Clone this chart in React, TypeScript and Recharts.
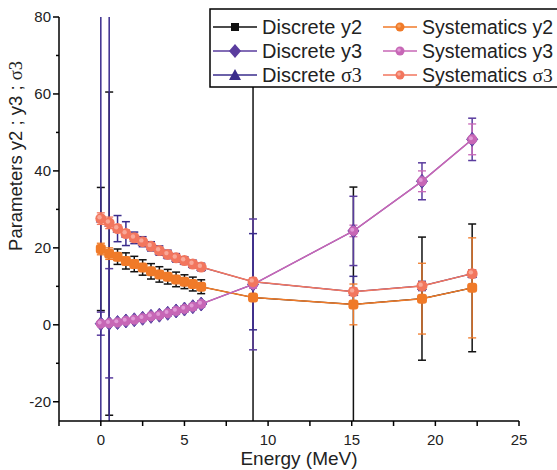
import { LineChart, Line, XAxis, YAxis, ErrorBar } from 'recharts';

// energy points (MeV)
const energy = [0, 0.5, 1, 1.5, 2, 2.5, 3, 3.5, 4, 4.5, 5, 5.5, 6, 9.1, 15.1, 19.2, 22.2];

// parameter values (discrete and systematics coincide)
const y2Values = [19.7, 18.5, 17.7, 16.6, 15.8, 14.9, 13.9, 13.1, 12.5, 11.8, 11.2, 10.6, 9.9, 7.1, 5.3, 6.8, 9.6];
const y3Values = [0.3, 0.4, 0.6, 1.0, 1.3, 1.7, 2.2, 2.5, 3.0, 3.6, 4.1, 4.7, 5.4, 10.5, 24.4, 37.3, 48.2];
const sigma3Values = [27.6, 26.5, 25.0, 23.7, 22.6, 21.6, 20.4, 19.3, 18.3, 17.4, 16.7, 15.8, 15.0, 11.2, 8.6, 10.1, 13.3];

// errors
const discreteY2Err = [16, 42, 2, 2.1, 2, 2, 2, 2, 1.9, 1.9, 1.8, 1.8, 1.8, 200, 30.5, 16, 16.6];
const discreteY3Err = [3, 14.2, 0.6, 0.6, 0.6, 0.6, 0.7, 0.7, 0.7, 0.8, 0.8, 0.8, 0.8, 17, 9, 4.8, 5.5];
const discreteS3Err = [200, 200, 3.4, 3.1, 1.5, 1.3, 1.2, 1.2, 1.1, 1.1, 1.0, 1.0, 1.0, 12.5, 4, 1.2, 1];
const sysY2Err = [1.5, 1.5, 1, 1, 1, 0.8, 0.8, 0.8, 0.8, 0.8, 0.8, 0.8, 0.8, 1, 5.3, 9.2, 13];
const sysY3Err = [0.5, 0.5, 0.3, 0.3, 0.3, 0.3, 0.3, 0.3, 0.3, 0.3, 0.3, 0.3, 0.3, 1, 1.5, 2.7, 4];
const sysS3Err = [1.5, 1.5, 1, 1, 1, 0.8, 0.8, 0.8, 0.8, 0.8, 0.8, 0.8, 0.8, 1, 1, 1, 1];

const xTicks = [-2.5, 0, 2.5, 5, 7.5, 10, 12.5, 15, 17.5, 20, 22.5, 25];
const yTicks = [-20, -10, 0, 10, 20, 30, 40, 50, 60, 70, 80];

const C = {
  dY2: '#111111',
  dY3: '#5a3c9e',
  dS3: '#3a2c8c',
  sY2: '#f07a28',
  sY3: '#c767b6',
  sS3: '#f2765e',
};

const FONT = "'Liberation Sans', Arial, sans-serif";
const SERIF = "'Liberation Serif', 'Times New Roman', serif";

const data = energy.map((e, i) => ({
  e,
  dy2: y2Values[i],
  dy3: y3Values[i],
  ds3: sigma3Values[i],
  sy2: y2Values[i],
  sy3: y3Values[i],
  ss3: sigma3Values[i],
  dy2Err: discreteY2Err[i],
  dy3Err: discreteY3Err[i],
  ds3Err: discreteS3Err[i],
  sy2Err: sysY2Err[i],
  sy3Err: sysY3Err[i],
  ss3Err: sysS3Err[i],
}));

function XTick({ x, y, payload }: any) {
  const v = payload.value;
  const major = v % 5 === 0;
  return (
    <g>
      <line x1={x} x2={x} y1={y} y2={y + 5} stroke="#000" strokeWidth={1.5} />
      {major && (
        <text x={x} y={y + 24} textAnchor="middle" fontSize={15} fontFamily={FONT} fill="#222">
          {v}
        </text>
      )}
    </g>
  );
}

function YTick({ x, y, payload }: any) {
  const v = payload.value;
  const major = v % 20 === 0;
  return (
    <g>
      <line x1={x - (major ? 6 : 3)} x2={x} y1={y} y2={y} stroke="#000" strokeWidth={1.5} />
      {major && (
        <text x={x - 8} y={y + 5} textAnchor="end" fontSize={15} fontFamily={FONT} fill="#222">
          {v}
        </text>
      )}
    </g>
  );
}

const squareDot = (p: any) => (
  <rect key={p.key} x={p.cx - 3.5} y={p.cy - 3.5} width={7} height={7} fill={C.dY2} />
);
const diamondDot = (p: any) => (
  <polygon
    key={p.key}
    points={`${p.cx},${p.cy - 7} ${p.cx + 5.5},${p.cy} ${p.cx},${p.cy + 7} ${p.cx - 5.5},${p.cy}`}
    fill="#7a55b0"
    stroke={C.dY3}
    strokeWidth={1}
  />
);
const triangleDot = (p: any) => (
  <polygon
    key={p.key}
    points={`${p.cx},${p.cy - 5} ${p.cx + 5},${p.cy + 4} ${p.cx - 5},${p.cy + 4}`}
    fill={C.dS3}
  />
);
const orangeDot = (p: any) => (
  <g key={p.key}>
    <rect x={p.cx - 5} y={p.cy - 5} width={10} height={10} rx={3} fill={C.sY2} />
  </g>
);
const pinkDot = (p: any) => (
  <g key={p.key}>
    <circle cx={p.cx} cy={p.cy} r={5} fill={C.sY3} />
    <circle cx={p.cx - 1.2} cy={p.cy - 1.2} r={2} fill="#e09ad6" />
  </g>
);
const salmonDot = (p: any) => (
  <g key={p.key}>
    <circle cx={p.cx} cy={p.cy} r={5.5} fill={C.sS3} />
    <circle cx={p.cx - 1.3} cy={p.cy - 1.3} r={2.2} fill="#f8a898" />
  </g>
);

const legendRows = [
  { label: 'Discrete y2', color: C.dY2, kind: 'square' },
  { label: 'Discrete y3', color: C.dY3, kind: 'diamond' },
  { label: 'Discrete ', sigma: true, color: C.dS3, kind: 'triangle' },
];
const legendRows2 = [
  { label: 'Systematics y2', color: C.sY2, light: '#f5a060' },
  { label: 'Systematics y3', color: C.sY3, light: '#e09ad6' },
  { label: 'Systematics ', sigma: true, color: C.sS3, light: '#f8a898' },
];
const rowY = [27, 51, 75];

function LegendMarker({ kind, cx, cy, color }: any) {
  if (kind === 'square') return <rect x={cx - 4} y={cy - 4} width={8} height={8} fill={color} />;
  if (kind === 'diamond')
    return <polygon points={`${cx},${cy - 7} ${cx + 6},${cy} ${cx},${cy + 7} ${cx - 6},${cy}`} fill={color} />;
  return <polygon points={`${cx},${cy - 6} ${cx + 6},${cy + 5} ${cx - 6},${cy + 5}`} fill={color} />;
}

function ChartLegend() {
  return (
    <svg width={557} height={100} style={{ position: 'absolute', left: 0, top: 0 }}>
      <rect x={210} y={9} width={360} height={78} fill="#fff" stroke="#000" strokeWidth={1.5} />
      {legendRows.map((r, i) => (
        <g key={r.label}>
          <line x1={213} x2={257} y1={rowY[i]} y2={rowY[i]} stroke={r.color} strokeWidth={1.5} />
          <LegendMarker kind={r.kind} cx={235} cy={rowY[i]} color={r.color} />
          <text x={262} y={rowY[i] + 7} fontSize={20} fontFamily={FONT} fill="#222">
            {r.label}
            {r.sigma && <tspan fontFamily={SERIF}>σ3</tspan>}
          </text>
        </g>
      ))}
      {legendRows2.map((r, i) => (
        <g key={r.label}>
          <line x1={383} x2={417} y1={rowY[i]} y2={rowY[i]} stroke={r.color} strokeWidth={1.5} />
          <circle cx={400} cy={rowY[i]} r={4.5} fill={r.color} />
          <circle cx={399} cy={rowY[i] - 1} r={1.8} fill={r.light} />
          <text x={422} y={rowY[i] + 7} fontSize={19.5} fontFamily={FONT} fill="#222">
            {r.label}
            {r.sigma && <tspan fontFamily={SERIF}>σ3</tspan>}
          </text>
        </g>
      ))}
    </svg>
  );
}

export default function App() {
  return (
    <div style={{ position: 'absolute', left: 0, top: 0, width: 557, height: 470, background: '#fff' }}>
      <style>{'.recharts-errorBar, .recharts-errorBars, .clipped { clip-path: url(#plotClip); }'}</style>
      <svg width={0} height={0} style={{ position: 'absolute', left: 0, top: 0 }}>
        <defs>
          <clipPath id="plotClip" clipPathUnits="userSpaceOnUse">
            <rect x={0} y={17} width={557} height={404} />
          </clipPath>
        </defs>
      </svg>
      <LineChart width={557} height={470} data={data} margin={{ top: 17, right: 38, left: 0, bottom: 0 }}>
        <XAxis
          dataKey="e"
          type="number"
          domain={[-2.5, 25]}
          ticks={xTicks}
          interval={0}
          allowDataOverflow
          height={49}
          tickLine={false}
          tickSize={0}
          tickMargin={0}
          tick={<XTick />}
          axisLine={{ stroke: '#000', strokeWidth: 1.5 }}
        />
        <YAxis
          type="number"
          domain={[-25, 80]}
          ticks={yTicks}
          interval={0}
          allowDataOverflow
          width={59}
          tickLine={false}
          tickSize={0}
          tickMargin={0}
          tick={<YTick />}
          axisLine={{ stroke: '#000', strokeWidth: 1.5 }}
        />
        <Line className="clipped" dataKey="dy2" stroke={C.dY2} strokeWidth={1.2} dot={squareDot} isAnimationActive={false}>
          <ErrorBar dataKey="dy2Err" direction="y" width={4} stroke={C.dY2} strokeWidth={1.5} />
        </Line>
        <Line className="clipped" dataKey="dy3" stroke={C.dY3} strokeWidth={1.2} dot={diamondDot} isAnimationActive={false}>
          <ErrorBar dataKey="dy3Err" direction="y" width={4} stroke={C.dY3} strokeWidth={1.5} />
        </Line>
        <Line className="clipped" dataKey="ds3" stroke={C.dS3} strokeWidth={1.2} dot={triangleDot} isAnimationActive={false}>
          <ErrorBar dataKey="ds3Err" direction="y" width={4} stroke={C.dS3} strokeWidth={1.5} />
        </Line>
        <Line className="clipped" dataKey="sy2" stroke={C.sY2} strokeWidth={1.5} dot={orangeDot} isAnimationActive={false}>
          <ErrorBar dataKey="sy2Err" direction="y" width={4} stroke={C.sY2} strokeWidth={1.3} />
        </Line>
        <Line className="clipped" dataKey="sy3" stroke={C.sY3} strokeWidth={1.5} dot={pinkDot} isAnimationActive={false}>
          <ErrorBar dataKey="sy3Err" direction="y" width={4} stroke={C.sY3} strokeWidth={1.3} />
        </Line>
        <Line className="clipped" dataKey="ss3" stroke={C.sS3} strokeWidth={1.5} dot={salmonDot} isAnimationActive={false}>
          <ErrorBar dataKey="ss3Err" direction="y" width={4} stroke={C.sS3} strokeWidth={1.3} />
        </Line>
        <text x={299} y={465} textAnchor="middle" fontSize={19} fontFamily={FONT} fill="#222">
          Energy (MeV)
        </text>
        <text
          x={22}
          y={156}
          textAnchor="middle"
          fontSize={18.5}
          fontFamily={FONT}
          fill="#222"
          transform="rotate(-90 22 156)"
        >
          Parameters y2 ; y3 ; <tspan fontFamily={SERIF}>σ3</tspan>
        </text>
      </LineChart>
      <ChartLegend />
    </div>
  );
}
